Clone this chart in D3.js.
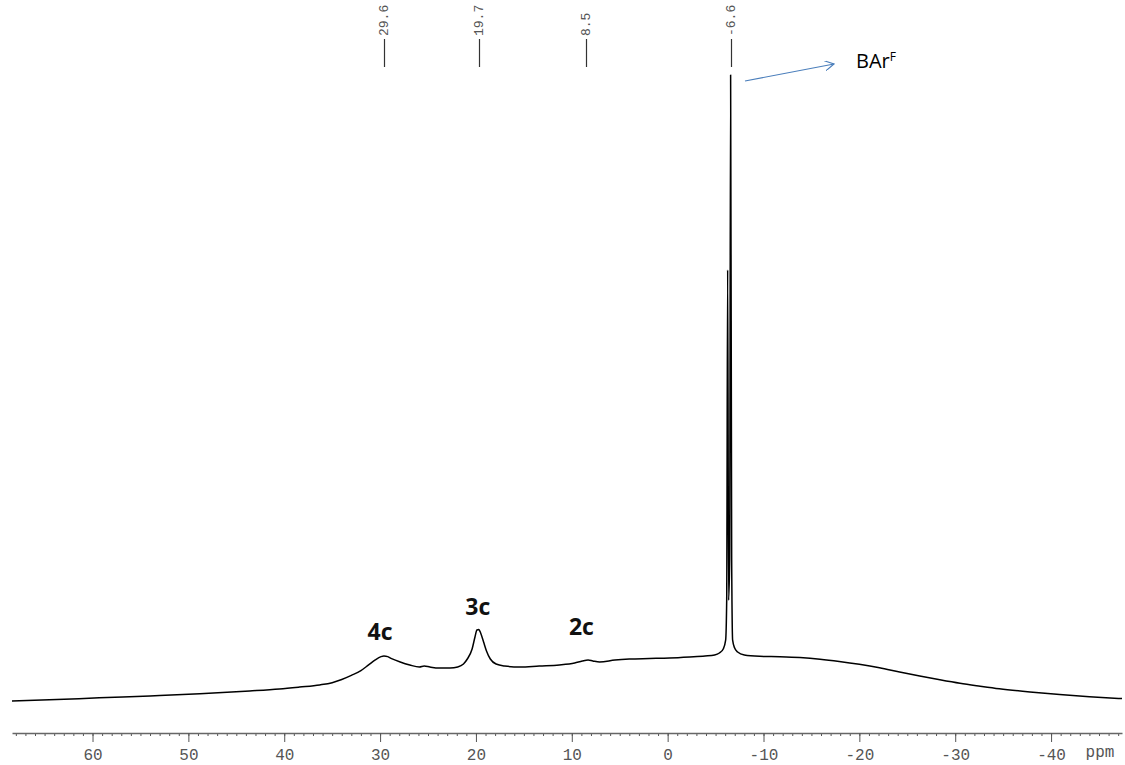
<!DOCTYPE html>
<html>
<head>
<meta charset="utf-8">
<script src="https://cdn.jsdelivr.net/npm/d3@7"></script>
<style>
  html, body { margin: 0; padding: 0; background: #fff; }
  svg { display: block; }
</style>
</head>
<body>
<svg id="chart" width="1125" height="765"></svg>
<script>
// 11B NMR spectrum, chemical shift in ppm (axis runs high → low)
const shiftPpm = [
  68.4, 64.5, 59.3, 54.0, 48.8, 43.6, 40.5, 38.4, 36.3, 35.0, 34.0, 33.0, 32.0, 31.2, 30.5,
  29.9, 29.6, 29.2, 28.8, 27.9, 26.9, 25.9, 25.4, 24.8, 23.8, 22.7, 21.9, 21.3, 20.9, 20.4,
  20.1, 19.9, 19.7, 19.5, 19.2, 18.9, 18.5, 17.9, 17.0, 15.4, 13.4, 11.3, 9.7, 8.9, 8.3,
  7.8, 7.1, 5.5, 4.0, 1.9, -0.2, -2.3, -3.9, -4.9, -5.4, -5.8, -6.05, -6.16, -6.26, -6.36,
  -6.47, -6.57, -6.68, -6.78, -6.99, -7.3, -8.0, -9.6, -11.7, -13.8, -15.9, -17.9, -20.0, -22.1,
  -24.2, -26.3, -28.4, -30.5, -32.6, -34.6, -37.8, -40.9, -44.0, -47.4
];
const intensity = [
  1.42, 1.60, 1.92, 2.22, 2.55, 3.0, 3.32, 3.62, 3.95, 4.3, 4.8, 5.45, 6.2, 7.1, 7.9,
  8.4, 8.5, 8.4, 8.1, 7.56, 7.09, 6.77, 6.93, 6.77, 6.61, 6.61, 6.77, 7.24, 8.03, 9.61,
  11.5, 12.6, 12.68, 12.1, 10.7, 9.29, 8.03, 7.24, 6.93, 6.77, 6.93, 7.09, 7.40, 7.72, 7.87,
  7.72, 7.56, 7.87, 8.03, 8.11, 8.19, 8.35, 8.50, 8.66, 8.98, 9.61, 11.0, 17.3, 69.3, 17.3,
  23.6, 100, 23.6, 11.0, 9.76, 9.13, 8.66, 8.45, 8.38, 8.25, 8.0, 7.65, 7.2, 6.65,
  5.98, 5.35, 4.75, 4.2, 3.75, 3.35, 2.85, 2.45, 2.1, 1.8
];

// picked peaks shown along the top
const peakShifts = [29.6, 19.7, 8.5, -6.6];
const peakLabels = ["29.6", "19.7", "8.5", "-6.6"];

// species assignments
const speciesNames = ["4c", "3c", "2c"];
const speciesShifts = [30.0, 19.8, 9.0];
const speciesHeights = [11.0, 15.0, 11.8];

// axis ticks
const majorTicks = [60, 50, 40, 30, 20, 10, 0, -10, -20, -30, -40];
const axisUnit = "ppm";

const svg = d3.select("#chart");

const x = d3.scaleLinear().domain([68.4, -47.4]).range([12, 1122]);
const y = d3.scaleLinear().domain([0, 100]).range([710, 75]);

// spectrum trace
const pts = shiftPpm.map((s, i) => [s, intensity[i]]);
const line = d3.line()
  .x(d => x(d[0]))
  .y(d => y(d[1]))
  .curve(d3.curveMonotoneX);

svg.append("path")
  .datum(pts)
  .attr("d", line)
  .attr("fill", "none")
  .attr("stroke", "#000")
  .attr("stroke-width", 1.5)
  .attr("stroke-linejoin", "round");

// ppm axis
const axisY = 733;
const monoFont = "'Liberation Mono', 'DejaVu Sans Mono', monospace";
const axisG = svg.append("g").attr("transform", `translate(0,${axisY})`);
const minorTicks = d3.range(68, -48, -1);
axisG.append("g")
  .call(d3.axisBottom(x).tickValues(minorTicks).tickSize(3).tickFormat(""))
  .call(g => g.select(".domain").remove())
  .call(g => g.selectAll("line").attr("stroke", "#555"));
axisG.append("g")
  .call(d3.axisBottom(x).tickValues(majorTicks).tickSize(9).tickSizeOuter(0).tickPadding(7)
    .tickFormat(d => String(d)))
  .call(g => g.select(".domain").attr("stroke", "#666").attr("stroke-width", 1.5))
  .call(g => g.selectAll("line").attr("stroke", "#555"))
  .call(g => g.selectAll("text")
    .attr("font-family", monoFont)
    .attr("font-size", 16)
    .attr("fill", "#555"));
svg.append("text")
  .attr("x", 1100).attr("y", 757)
  .attr("text-anchor", "middle")
  .attr("font-family", monoFont)
  .attr("font-size", 16)
  .attr("fill", "#555")
  .text(axisUnit);

// peak picks along the top
const picks = svg.append("g");
peakShifts.forEach((s, i) => {
  const px = Math.round(x(s)) + 0.5;
  picks.append("line")
    .attr("x1", px).attr("x2", px)
    .attr("y1", 39).attr("y2", 67)
    .attr("stroke", "#333").attr("stroke-width", 1.2);
  picks.append("text")
    .attr("transform", `translate(${px},36) rotate(-90)`)
    .attr("text-anchor", "start")
    .attr("dominant-baseline", "central")
    .attr("font-family", monoFont)
    .attr("font-size", 13)
    .attr("fill", "#555")
    .text(peakLabels[i]);
});

// species labels
speciesNames.forEach((n, i) => {
  svg.append("text")
    .attr("x", x(speciesShifts[i]))
    .attr("y", y(speciesHeights[i]))
    .attr("text-anchor", "middle")
    .attr("font-family", "'Open Sans', 'Liberation Sans', sans-serif")
    .attr("font-weight", "bold")
    .attr("font-size", 23)
    .attr("fill", "#111")
    .text(n);
});

// BArF annotation with arrow
const defs = svg.append("defs");
defs.append("marker")
  .attr("id", "openArrow")
  .attr("viewBox", "0 0 10 10")
  .attr("refX", 9).attr("refY", 5)
  .attr("markerWidth", 10).attr("markerHeight", 10)
  .attr("markerUnits", "userSpaceOnUse")
  .attr("orient", "auto")
  .append("path")
  .attr("d", "M0,0 L9,5 L0,10")
  .attr("fill", "none")
  .attr("stroke", "#4a7ebb")
  .attr("stroke-width", 1.2);
svg.append("line")
  .attr("x1", 745).attr("y1", 81)
  .attr("x2", 834).attr("y2", 64)
  .attr("stroke", "#4a7ebb")
  .attr("stroke-width", 1.2)
  .attr("marker-end", "url(#openArrow)");
const barf = svg.append("text")
  .attr("x", 856).attr("y", 68)
  .attr("font-family", "'Open Sans', 'Liberation Sans', sans-serif")
  .attr("font-size", 20)
  .attr("fill", "#000");
barf.append("tspan").text("BAr");
barf.append("tspan").attr("dy", -7).attr("font-size", 12).text("F");
</script>
</body>
</html>
